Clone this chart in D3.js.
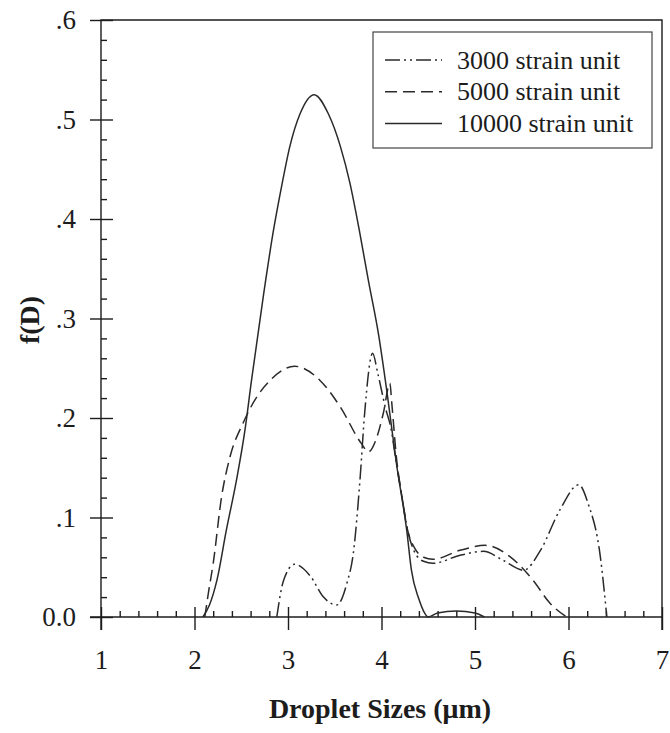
<!DOCTYPE html>
<html>
<head>
<meta charset="utf-8">
<script src="https://cdn.jsdelivr.net/npm/d3@7/dist/d3.min.js"></script>
<style>
  body { margin: 0; background: #fff; }
  svg text { font-family: 'Liberation Serif', 'Times New Roman', serif; fill: #1c1c1c; }
</style>
</head>
<body>
<div id="container"></div>
<script>
//### DATA ###
const xTickValues = [ 1, 2, 3, 4, 5, 6, 7 ];
const yTickValues = [ 0, 0.1, 0.2, 0.3, 0.4, 0.5, 0.6 ];
const seriesNames = [ '3000 strain unit', '5000 strain unit', '10000 strain unit' ];

// 3000 strain unit (dash-dot)
const size3000 = [ 2.88, 2.95, 3.07, 3.24, 3.38, 3.52, 3.63, 3.70, 3.77, 3.82, 3.905, 3.96, 4.04, 4.10, 4.16, 4.22, 4.28, 4.35, 4.45, 4.55, 4.84, 5.09, 5.30, 5.52, 5.70, 5.91, 6.11, 6.21, 6.34, 6.41 ];
const f3000 = [ 0, 0.036, 0.053, 0.041, 0.020, 0.012, 0.034, 0.065, 0.138, 0.205, 0.265, 0.245, 0.211, 0.190, 0.154, 0.120, 0.087, 0.066, 0.056, 0.054, 0.062, 0.066, 0.057, 0.047, 0.067, 0.108, 0.133, 0.114, 0.061, 0 ];

// 5000 strain unit (dashed)
const size5000 = [ 2.11, 2.15, 2.20, 2.29, 2.38, 2.52, 2.665, 2.81, 3.07, 3.34, 3.56, 3.78, 3.86, 3.94, 4.02, 4.09, 4.11, 4.16, 4.22, 4.28, 4.35, 4.45, 4.55, 4.84, 5.11, 5.37, 5.62, 5.80, 5.98 ];
const f5000 = [ 0, 0.025, 0.054, 0.121, 0.161, 0.195, 0.221, 0.238, 0.252, 0.238, 0.211, 0.175, 0.166, 0.178, 0.205, 0.235, 0.215, 0.160, 0.120, 0.087, 0.070, 0.060, 0.058, 0.067, 0.072, 0.061, 0.037, 0.014, 0 ];

// 10000 strain unit (solid)
const size10000 = [ 2.09, 2.16, 2.24, 2.34, 2.45, 2.54, 2.61, 2.74, 2.84, 2.93, 3.02, 3.13, 3.28, 3.43, 3.56, 3.66, 3.76, 3.86, 3.97, 4.06, 4.16, 4.27, 4.32, 4.40, 4.45, 4.50, 4.60, 4.80, 5.00, 5.10 ];
const f10000 = [ 0, 0.012, 0.037, 0.087, 0.138, 0.188, 0.238, 0.325, 0.386, 0.432, 0.473, 0.506, 0.525, 0.506, 0.473, 0.437, 0.390, 0.338, 0.283, 0.225, 0.154, 0.087, 0.047, 0.018, 0.006, 0, 0.004, 0.006, 0.004, 0 ];


//### CREATE THE VISUALIZATION ###
const margin = { top: 20, right: 8, bottom: 116, left: 101 };
const width = 670 - margin.left - margin.right;
const height = 733 - margin.top - margin.bottom;
const ink = '#1c1c1c';

const svg = d3.select( '#container' )
  .append( 'svg' )
  .attr( 'width', 670 )
  .attr( 'height', 733 )
  .append( 'g' )
  .attr( 'transform', `translate(${margin.left}, ${margin.top})` );

//_____ SCALES _____
const xScale = d3.scaleLinear().domain( [ 1, 7 ] ).range( [ 0, width ] );
const yScale = d3.scaleLinear().domain( [ 0, 0.6 ] ).range( [ height, 0 ] );

//_____ MINOR TICKS _____
const xMinor = d3.range( 1, 7.001, 0.2 ).filter( v => Math.abs( v - Math.round( v ) ) > 0.01 );
const yMinor = d3.range( 0, 0.6001, 0.02 ).filter( v => Math.abs( v * 10 - Math.round( v * 10 ) ) > 0.01 );

function styleAxis ( g ) {
  g.select( '.domain' ).remove();
  g.selectAll( 'line' ).attr( 'stroke', ink ).attr( 'stroke-width', 1.4 );
}

//>>> X axis: majors crossing, minors inside
svg.append( 'g' )
  .attr( 'transform', `translate(0, ${height})` )
  .call( d3.axisBottom( xScale ).tickValues( xTickValues ).tickSize( 13 ).tickPadding( 20 ).tickFormat( d3.format( 'd' ) ) )
  .call( styleAxis )
  .call( g => g.selectAll( 'text' ).style( 'font-size', '27px' ) );

svg.append( 'g' )
  .attr( 'transform', `translate(0, ${height})` )
  .call( d3.axisTop( xScale ).tickValues( xTickValues ).tickSize( 10 ).tickFormat( '' ) )
  .call( styleAxis );

svg.append( 'g' )
  .attr( 'transform', `translate(0, ${height})` )
  .call( d3.axisTop( xScale ).tickValues( xMinor ).tickSize( 6 ).tickFormat( '' ) )
  .call( styleAxis );

//>>> Y axis
const yFormat = d => d === 0 ? '0.0' : d.toFixed( 1 ).replace( /^0/, '' );

svg.append( 'g' )
  .call( d3.axisLeft( yScale ).tickValues( yTickValues ).tickSize( 11 ).tickPadding( 14 ).tickFormat( yFormat ) )
  .call( styleAxis )
  .call( g => g.selectAll( 'text' ).style( 'font-size', '27px' ) );

svg.append( 'g' )
  .call( d3.axisRight( yScale ).tickValues( yTickValues ).tickSize( 12 ).tickFormat( '' ) )
  .call( styleAxis );

svg.append( 'g' )
  .call( d3.axisRight( yScale ).tickValues( yMinor ).tickSize( 6 ).tickFormat( '' ) )
  .call( styleAxis );

//>>> Frame lines
svg.append( 'path' )
  .attr( 'd', `M0,${height + 13}V0H${width}V${height + 13}` )
  .attr( 'fill', 'none' )
  .attr( 'stroke', ink )
  .attr( 'stroke-width', 1.4 );

svg.append( 'line' )
  .attr( 'x1', -11 ).attr( 'x2', width )
  .attr( 'y1', height ).attr( 'y2', height )
  .attr( 'stroke', ink ).attr( 'stroke-width', 1.4 );

//_____ CURVES _____
const dashes = [ '15,4,2,4,2,4', '12,6', null ];
const series = [
  { name: seriesNames[ 0 ], xs: size3000, ys: f3000, dash: dashes[ 0 ] },
  { name: seriesNames[ 1 ], xs: size5000, ys: f5000, dash: dashes[ 1 ] },
  { name: seriesNames[ 2 ], xs: size10000, ys: f10000, dash: dashes[ 2 ] }
];

const line = d3.line()
  .x( d => xScale( d[ 0 ] ) )
  .y( d => yScale( d[ 1 ] ) )
  .curve( d3.curveMonotoneX );

series.forEach( s => {
  svg.append( 'path' )
    .datum( s.xs.map( ( x, i ) => [ x, s.ys[ i ] ] ) )
    .attr( 'd', line )
    .attr( 'fill', 'none' )
    .attr( 'stroke', '#2a2a2a' )
    .attr( 'stroke-width', 1.5 )
    .attr( 'stroke-dasharray', s.dash );
} );

//_____ AXIS TITLES _____
svg.append( 'text' )
  .attr( 'x', 380 - margin.left )
  .attr( 'y', 718 - margin.top )
  .attr( 'text-anchor', 'middle' )
  .style( 'font-size', '28px' )
  .style( 'font-weight', 'bold' )
  .text( 'Droplet Sizes (\u03bcm)' );

svg.append( 'text' )
  .attr( 'transform', `translate(${39 - margin.left}, ${320 - margin.top}) rotate(-90)` )
  .attr( 'text-anchor', 'middle' )
  .style( 'font-size', '28px' )
  .style( 'font-weight', 'bold' )
  .text( 'f(D)' );

//_____ LEGEND _____
const legend = svg.append( 'g' )
  .attr( 'transform', `translate(${373 - margin.left}, ${32 - margin.top})` );

legend.append( 'rect' )
  .attr( 'width', 279 )
  .attr( 'height', 116 )
  .attr( 'fill', '#fff' )
  .attr( 'stroke', '#444' )
  .attr( 'stroke-width', 1.2 );

series.forEach( ( s, i ) => {
  const yRow = 28 + i * 31.7;
  legend.append( 'line' )
    .attr( 'x1', 12 ).attr( 'x2', 69 )
    .attr( 'y1', yRow ).attr( 'y2', yRow )
    .attr( 'stroke', '#2a2a2a' )
    .attr( 'stroke-width', 1.5 )
    .attr( 'stroke-dasharray', s.dash );
  legend.append( 'text' )
    .attr( 'x', 84 )
    .attr( 'y', yRow + 8.5 )
    .style( 'font-size', '26px' )
    .text( s.name );
} );
</script>
</body>
</html>
